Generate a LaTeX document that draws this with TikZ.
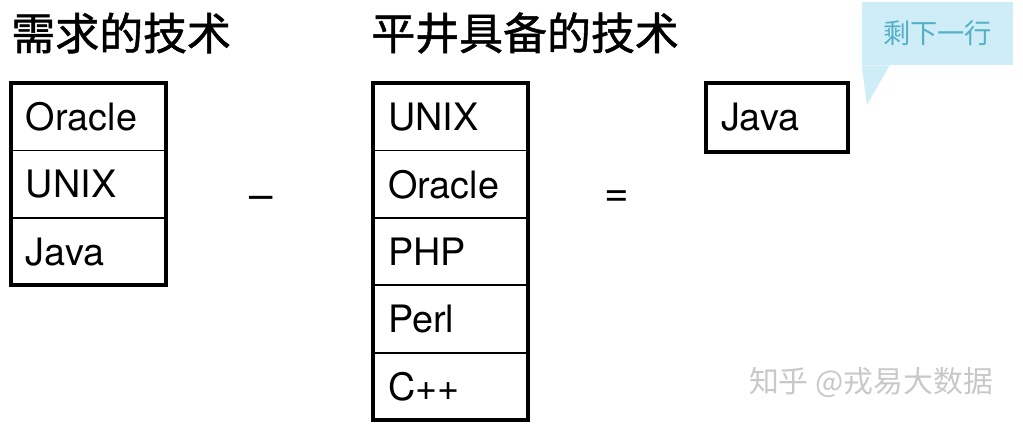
\documentclass[tikz,border=0pt]{standalone}
\usepackage{fontspec}
\setmainfont{TeX Gyre Heros}
\newfontfamily\cjk{Noto Sans CJK SC}
\newfontfamily\cjktitle[FakeBold=1.2]{Noto Sans CJK SC}
\usetikzlibrary{positioning}
\definecolor{notefill}{RGB}{206, 237, 247}
\definecolor{notetext}{RGB}{84, 176, 198}
\definecolor{markgray}{RGB}{200, 200, 200}

\tikzset{
  cell/.style={draw, line width=1.1pt, minimum height=1.35cm, text width=2.5cm,
    inner xsep=0.3cm, inner ysep=0pt, outer sep=0pt, align=left,
    font=\fontsize{21.5}{24}\selectfont},
  outerbox/.style={draw, line width=2.3pt},
  title/.style={anchor=west, inner sep=0pt, font=\cjktitle\fontsize{25}{28}\selectfont},
  op/.style={inner sep=0pt, font=\fontsize{24}{28}\selectfont}
}

\begin{document}
\begin{tikzpicture}[x=0.02cm, y=-0.02cm]
  \useasboundingbox (0,0) rectangle (1023,426);
  % Titles
  \node[title] (needtitle) at (11,33) {需求的技术};
  \node[title] (hastitle) at (371,33) {平井具备的技术};
  % Required skills
  \node[cell, anchor=north west] (need1) at (11,83) {Oracle};
  \node[cell, below=0pt of need1] (need2) {UNIX};
  \node[cell, below=0pt of need2] (need3) {Java};
  \draw[outerbox] (need1.north west) rectangle (need3.south east);
  % Skills Hirai has
  \node[cell, anchor=north west] (has1) at (373,83) {UNIX};
  \node[cell, below=0pt of has1] (has2) {Oracle};
  \node[cell, below=0pt of has2] (has3) {PHP};
  \node[cell, below=0pt of has3] (has4) {Perl};
  \node[cell, below=0pt of has4] (has5) {C++};
  \draw[outerbox] (has1.north west) rectangle (has5.south east);
  % Operators
  \node[op] (minus) at (261,203) {–};
  \node[op] (equals) at (617,199) {=};
  % Result
  \node[cell, outerbox, anchor=north west, text width=2.24cm, minimum height=1.38cm] (left) at (706,83) {Java};
  % Callout
  \node[fill=notefill, minimum width=3.02cm, minimum height=1.26cm, text=notetext,
    font=\cjk\fontsize{15.5}{18}\selectfont] (note) at (937.5,33.5) {剩下一行};
  \coordinate (tip) at (867,105);
  \fill[notefill] (note.south west) -- ([xshift=0.56cm]note.south west) -- (tip) -- cycle;
  % Watermark
  \node[text=markgray, inner sep=0pt, font=\cjk\fontsize{17}{20}\selectfont] (mark) at (871,383) {知乎 @戎易大数据};
\end{tikzpicture}
\end{document}
